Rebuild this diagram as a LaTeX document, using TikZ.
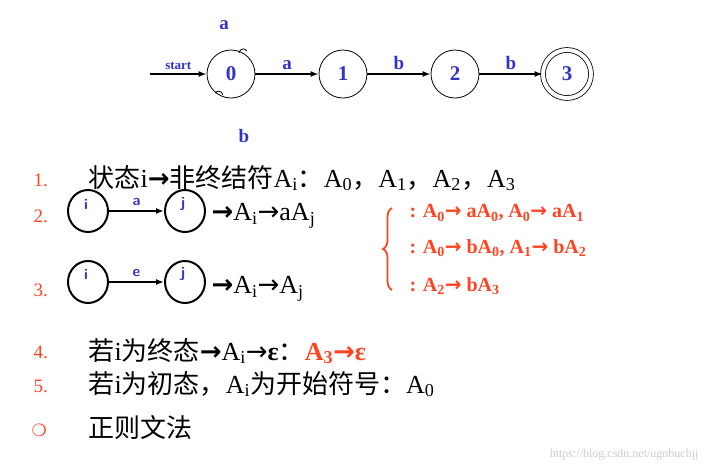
\documentclass[tikz,border=0pt]{standalone}
\usepackage{fontspec}
\setmainfont{Liberation Serif}
\newfontfamily\cjk{Noto Sans CJK SC}
\newfontfamily\dv{DejaVu Sans}
\newcommand{\ra}{{\dv →}}
\usetikzlibrary{arrows.meta,decorations.pathreplacing,shapes.geometric}
\definecolor{fsblue}{HTML}{3333CC}
\definecolor{fsred}{HTML}{FF4422}
\tikzset{
 st/.style={circle,draw,line width=0.8pt,minimum size=48pt,inner sep=0pt,font=\bfseries\fontsize{21}{21}\selectfont,text=fsblue},
 sm/.style={ellipse,draw,line width=2pt,minimum width=40pt,minimum height=42pt,inner sep=0pt},
 lb/.style={font=\bfseries\fontsize{19}{19}\selectfont,text=fsblue},
 sl/.style={font=\sffamily\bfseries\fontsize{15}{15}\selectfont,text=fsblue},
 ar/.style={-{Latex[length=8pt,width=6pt]},line width=1.8pt},
 num/.style={anchor=west,text=fsred,font=\fontsize{19}{19}\selectfont},
 tx/.style={anchor=west,font=\fontsize{26}{26}\selectfont},
 rd/.style={anchor=west,text=fsred,font=\bfseries\fontsize{20}{20}\selectfont}
}
\begin{document}
\begin{tikzpicture}[x=1pt,y=-1pt]
\useasboundingbox[fill=white] (0,0) rectangle (707,472);
\node[st] (s0) at (231,74) {0};
\node[st] (s1) at (343,74) {1};
\node[st] (s2) at (455,74) {2};
\node[st,double,double distance=4pt] (s3) at (567,74) {3};
\coordinate (st) at (150,74);
\draw[ar] (st) -- node[above,lb,font=\bfseries\fontsize{13}{13}\selectfont]{start} (s0);
\draw[ar] (s0) -- node[above,lb]{a} (s1);
\draw[ar] (s1) -- node[above,lb]{b} (s2);
\draw[ar] (s2) -- node[above,lb]{b} (s3);
\draw[line width=0.8pt] (s0.60) ++(-4,0) arc[start angle=180,end angle=330,radius=4];
\draw[line width=0.8pt] (s0.240) ++(4,0) arc[start angle=0,end angle=-150,radius=4];
\node[lb] (la) at (224,25) {a};
\node[lb] (lbb) at (244,136) {b};
\node[num] (n1) at (30,180) {1.};
\node[tx] (t1) at (85,178) {{\cjk 状态}i{\dv\bfseries →}{\cjk 非终结符}A\textsubscript{i}{\cjk ：}A\textsubscript{0}{\cjk ，}A\textsubscript{1}{\cjk ，}A\textsubscript{2}{\cjk ，}A\textsubscript{3}};
\node[num] (n2) at (30,216) {2.};
\node[sm] (i1) at (88,211) {};
\node[sl] at (86,204) {i};
\node[sm] (j1) at (185,211) {};
\node[sl] at (183,204) {j};
\draw[ar] (i1) -- (j1) node[midway,above=1pt,sl]{a};
\node[tx] (t2) at (208,216) {{\dv\bfseries →}A\textsubscript{i}\ra aA\textsubscript{j}};
\node[num] (n3) at (30,290) {3.};
\node[sm] (i2) at (88,282) {};
\node[sl] at (86,274) {i};
\node[sm] (j2) at (185,282) {};
\node[sl] at (183,274) {j};
\draw[ar] (i2) -- (j2) node[midway,above=1pt,sl]{e};
\node[tx] (t3) at (208,289) {{\dv\bfseries →}A\textsubscript{i}\ra A\textsubscript{j}};
\draw[fsred,line width=1.8pt,decorate,decoration={brace,amplitude=9pt}] (392,290) -- (392,208);
\node[rd] (r1) at (406,213) {: A\textsubscript{0}\ra{} aA\textsubscript{0}, A\textsubscript{0}\ra{} aA\textsubscript{1}};
\node[rd] (r2) at (406,248) {: A\textsubscript{0}\ra{} bA\textsubscript{0}, A\textsubscript{1}\ra{} bA\textsubscript{2}};
\node[rd] (r3) at (406,286) {: A\textsubscript{2}\ra{} bA\textsubscript{3}};
\node[num] (n4) at (30,352) {4.};
\node[tx] (t4) at (85,351) {{\cjk 若}i{\cjk 为终态}{\dv\bfseries →}A\textsubscript{i}\ra\textbf{ε}{\cjk ：}\textcolor{fsred}{\textbf{A\textsubscript{3}\ra ε}}};
\node[num] (n5) at (30,386) {5.};
\node[tx] (t5) at (85,384) {{\cjk 若}i{\cjk 为初态，}A\textsubscript{i}{\cjk 为开始符号：}A\textsubscript{0}};
\node[anchor=west,text=fsred,font=\dv\fontsize{17}{17}\selectfont] (o) at (28,430) {❍};
\node[tx] (t6) at (85,428) {\cjk 正则文法};
\node[anchor=east,text=black!20,font=\fontsize{12}{12}\selectfont] (w) at (702,455) {https://blog.csdn.net/ugnbucbjj};
\end{tikzpicture}
\end{document}
